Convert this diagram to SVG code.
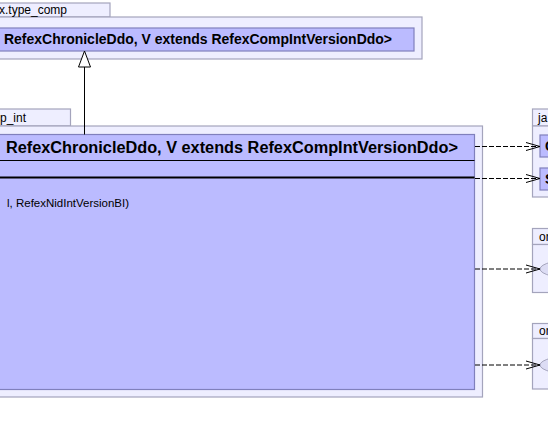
<svg xmlns="http://www.w3.org/2000/svg" width="548" height="435" viewBox="0 0 548 435">
<defs>
<style>
.pkg{fill:#eeeeff;stroke:#a4a4bc;stroke-width:1.2}
.cls{fill:#bbbbff;stroke:#8080bc;stroke-width:1.2}
.ell{fill:#dcdcf4;stroke:#a4a4bc;stroke-width:1}
.pl{font-family:"Liberation Sans",Arial,sans-serif;font-size:12px;fill:#000}
.cn{font-family:"Liberation Sans",Arial,sans-serif;font-weight:bold;fill:#000}
.mt{font-family:"Liberation Sans",Arial,sans-serif;font-size:11.5px;fill:#000}
.dep{stroke:#000;stroke-width:1;fill:none;stroke-dasharray:5,2}
</style>
<marker id="open" markerWidth="16" markerHeight="12" refX="14" refY="5" orient="auto" markerUnits="userSpaceOnUse">
<path d="M0,1 L14,5 L0,9" fill="none" stroke="#000" stroke-width="1"/>
</marker>
</defs>
<rect width="548" height="435" fill="#fff"/>
<g id="pkg-type-comp">
<rect class="pkg" x="-10" y="3" width="120" height="14"/>
<rect class="pkg" x="-10" y="17" width="432" height="42"/>
<text class="pl" x="-1" y="14">x.type_comp</text>
</g>
<g id="class-top">
<rect class="cls" x="-10" y="28" width="424" height="23"/>
<text class="cn" x="4" y="44" font-size="14" textLength="388" lengthAdjust="spacingAndGlyphs">RefexChronicleDdo, V extends RefexCompIntVersionDdo&gt;</text>
</g>
<g id="pkg-comp-int">
<rect class="pkg" x="-10" y="109" width="80.5" height="17"/>
<rect class="pkg" x="-10" y="126" width="492.5" height="271"/>
<text class="pl" x="0" y="122">p_int</text>
</g>
<g id="class-main">
<rect class="cls" x="-10" y="134.5" width="484.5" height="255"/>
<line x1="-10" y1="160.5" x2="474.5" y2="160.5" stroke="#000" stroke-width="1"/>
<line x1="-10" y1="177.5" x2="474.5" y2="177.5" stroke="#000" stroke-width="2"/>
<text class="cn" x="6" y="153" font-size="16" textLength="452" lengthAdjust="spacingAndGlyphs">RefexChronicleDdo, V extends RefexCompIntVersionDdo&gt;</text>
<text class="mt" x="7" y="207" textLength="122" lengthAdjust="spacingAndGlyphs">l, RefexNidIntVersionBI)</text>
</g>
<g id="pkg-ja">
<rect class="pkg" x="532.5" y="109" width="30" height="17"/>
<rect class="pkg" x="532.5" y="126" width="30" height="71"/>
<text class="pl" x="538" y="122">ja</text>
<rect class="cls" x="540" y="135" width="20" height="22"/>
<text class="cn" x="545" y="151" font-size="14">C</text>
<rect class="cls" x="540" y="168" width="20" height="22"/>
<text class="cn" x="545" y="184" font-size="14">S</text>
</g>
<g id="pkg-or-1">
<rect class="pkg" x="532.5" y="228.5" width="30" height="16"/>
<rect class="pkg" x="532.5" y="244.5" width="30" height="48"/>
<text class="pl" x="539" y="241">or</text>
<ellipse class="ell" cx="580" cy="269" rx="40" ry="10"/>
</g>
<g id="pkg-or-2">
<rect class="pkg" x="532.5" y="323.5" width="30" height="15"/>
<rect class="pkg" x="532.5" y="338.5" width="30" height="50.5"/>
<text class="pl" x="539" y="335">or</text>
<ellipse class="ell" cx="580" cy="365" rx="40" ry="10"/>
</g>
<g id="connectors">
<line x1="84.5" y1="67" x2="84.5" y2="134.5" stroke="#000" stroke-width="1"/>
<path d="M84.5,51 L90.5,67 L78.5,67 Z" fill="#fff" stroke="#000" stroke-width="1"/>
<line class="dep" x1="475" y1="146.5" x2="540" y2="146.5" marker-end="url(#open)"/>
<line class="dep" x1="475" y1="178.5" x2="540" y2="178.5" marker-end="url(#open)"/>
<line class="dep" x1="475" y1="269" x2="540" y2="269" marker-end="url(#open)"/>
<line class="dep" x1="475" y1="365" x2="540" y2="365" marker-end="url(#open)"/>
</g>
</svg>
